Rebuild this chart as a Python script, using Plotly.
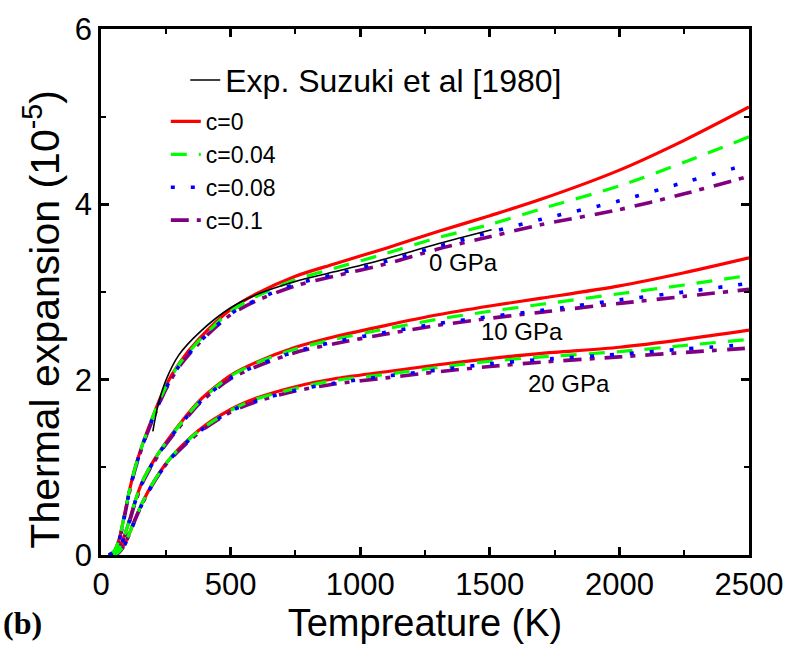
import plotly.graph_objects as go

# Temperature grid (K)
T = [30, 50, 70, 90, 110, 130, 160, 200, 250, 300, 380, 500, 600, 750, 900, 1100, 1300, 1500, 1700, 2000, 2250, 2500]

# 0 GPa
p0_c0 = [0, 0.04, 0.18, 0.45, 0.74, 0.98, 1.26, 1.58, 1.93, 2.18, 2.47, 2.80, 2.98, 3.18, 3.32, 3.50, 3.69, 3.87, 4.06, 4.39, 4.73, 5.11]
p0_c004 = [0, 0.04, 0.18, 0.45, 0.74, 0.98, 1.26, 1.58, 1.92, 2.17, 2.45, 2.78, 2.95, 3.14, 3.27, 3.44, 3.62, 3.77, 3.95, 4.21, 4.48, 4.77]
p0_c008 = [0, 0.04, 0.17, 0.44, 0.73, 0.97, 1.25, 1.56, 1.90, 2.15, 2.43, 2.75, 2.91, 3.09, 3.20, 3.35, 3.52, 3.68, 3.83, 4.04, 4.25, 4.46]
p0_c01 = [0, 0.03, 0.16, 0.43, 0.72, 0.96, 1.24, 1.55, 1.89, 2.14, 2.42, 2.74, 2.90, 3.07, 3.18, 3.32, 3.49, 3.63, 3.77, 3.94, 4.12, 4.32]

# 10 GPa
p10_c0 = [0, 0.01, 0.08, 0.22, 0.40, 0.60, 0.84, 1.06, 1.28, 1.48, 1.76, 2.05, 2.20, 2.37, 2.49, 2.62, 2.74, 2.84, 2.93, 3.07, 3.22, 3.39]
p10_c004 = [0, 0.01, 0.08, 0.22, 0.40, 0.60, 0.84, 1.06, 1.28, 1.47, 1.75, 2.04, 2.19, 2.35, 2.46, 2.58, 2.69, 2.78, 2.86, 2.98, 3.08, 3.19]
p10_c008 = [0, 0.01, 0.07, 0.21, 0.39, 0.59, 0.83, 1.05, 1.27, 1.46, 1.74, 2.02, 2.16, 2.32, 2.43, 2.54, 2.64, 2.72, 2.79, 2.91, 3.00, 3.10]
p10_c01 = [0, 0.01, 0.07, 0.20, 0.38, 0.58, 0.82, 1.04, 1.26, 1.45, 1.73, 2.01, 2.15, 2.31, 2.41, 2.52, 2.62, 2.70, 2.77, 2.87, 2.95, 3.03]

# 20 GPa
p20_c0 = [0, 0, 0.04, 0.12, 0.25, 0.40, 0.60, 0.82, 1.04, 1.21, 1.43, 1.66, 1.79, 1.92, 2.01, 2.09, 2.17, 2.24, 2.30, 2.37, 2.46, 2.565]
p20_c004 = [0, 0, 0.04, 0.12, 0.25, 0.40, 0.60, 0.82, 1.04, 1.21, 1.42, 1.65, 1.78, 1.90, 1.99, 2.06, 2.14, 2.21, 2.26, 2.32, 2.39, 2.46]
p20_c008 = [0, 0, 0.04, 0.11, 0.24, 0.39, 0.59, 0.81, 1.03, 1.20, 1.41, 1.64, 1.76, 1.88, 1.96, 2.04, 2.11, 2.18, 2.23, 2.29, 2.35, 2.40]
p20_c01 = [0, 0, 0.03, 0.11, 0.24, 0.39, 0.59, 0.81, 1.03, 1.19, 1.40, 1.63, 1.75, 1.87, 1.95, 2.02, 2.09, 2.15, 2.20, 2.26, 2.31, 2.36]

# Experiment (Suzuki et al 1980)
T_exp = [200, 220, 250, 300, 380, 500, 600, 750, 900, 1100, 1300, 1507]
v_exp = [1.41, 1.71, 1.99, 2.28, 2.54, 2.82, 2.97, 3.12, 3.23, 3.38, 3.55, 3.71]

series_names = ["c=0", "c=0.04", "c=0.08", "c=0.1"]
pressure_labels = ["0 GPa", "10 GPa", "20 GPa"]
label_T = [1398, 1624, 1806]
label_v = [3.34, 2.55, 1.96]

x_title = "Tempreature (K)"
y_title = "Thermal expansion (10<sup>-5</sup>)"

colors = ["#FF0000", "#00FF00", "#0000FF", "#800080"]
dashes = ["solid", "16px,12px", "4px,16px", "18px,8px,5px,10px"]
widths = [3.2, 3.2, 3.6, 3.6]

groups = [
    [p0_c0, p0_c004, p0_c008, p0_c01],
    [p10_c0, p10_c004, p10_c008, p10_c01],
    [p20_c0, p20_c004, p20_c008, p20_c01],
]

FONT = "Liberation Sans, Arial"
fig = go.Figure()

# drawing order: red, purple, green, blue (blue on top)
for k in [0, 3, 1, 2]:
    for gi, g in enumerate(groups):
        fig.add_trace(go.Scatter(
            x=T, y=g[k], mode="lines", name=series_names[k],
            legendgroup=series_names[k], legend="legend2",
            showlegend=False,
            line=dict(color=colors[k], width=widths[k], dash=dashes[k], shape="spline", smoothing=0.8),
        ))

fig.add_trace(go.Scatter(
    x=T_exp, y=v_exp, mode="lines", name="Exp. Suzuki et al [1980]",
    line=dict(color="black", width=1.6, shape="spline", smoothing=0.8),
    legend="legend", showlegend=True,
))

# legend entries for c series
for k in range(4):
    fig.add_trace(go.Scatter(
        x=[None], y=[None], mode="lines", name=series_names[k],
        legendgroup=series_names[k], legend="legend2", showlegend=True,
        line=dict(color=colors[k], width=widths[k], dash=dashes[k]),
    ))

for lab, tx, vy in zip(pressure_labels, label_T, label_v):
    fig.add_annotation(x=tx, y=vy, text=lab, showarrow=False,
                       font=dict(family=FONT, size=24, color="black"))

fig.add_annotation(xref="paper", yref="paper", x=-0.1214, y=-0.13, xanchor="center", yanchor="middle",
                   text="<b>(b)</b>", showarrow=False,
                   font=dict(family="Liberation Serif, Times New Roman", size=32, color="black"))

# y-axis title (placed as rotated text, slightly below plot centre as in the reference)
fig.add_annotation(xref="paper", yref="paper", x=-0.0906, y=0.448, xanchor="center", yanchor="middle",
                   text=y_title, textangle=-90, showarrow=False,
                   font=dict(family=FONT, size=41, color="black"))

axis_common = dict(
    showline=True, linewidth=2.5, linecolor="black", mirror="ticks",
    ticks="inside", ticklen=8, tickwidth=2.5, tickcolor="black",
    showgrid=False, zeroline=False,
    tickfont=dict(family=FONT, size=31, color="black"),
)

fig.update_xaxes(range=[0, 2500], dtick=500, tick0=0,
                 minor=dict(ticks="inside", ticklen=5, tickwidth=2, dtick=250, tickcolor="black"),
                 title=dict(text=x_title, font=dict(family=FONT, size=38, color="black"), standoff=8),
                 **axis_common)
fig.update_yaxes(range=[0, 6], dtick=2, tick0=0,
                 minor=dict(ticks="inside", ticklen=5, tickwidth=2, dtick=1, tickcolor="black"),
                 **axis_common)

fig.update_layout(
    width=795, height=661,
    margin=dict(l=101, r=43, t=23, b=106),
    paper_bgcolor="white", plot_bgcolor="white",
    legend=dict(x=0.13, y=0.955, xanchor="left", yanchor="top", bgcolor="rgba(0,0,0,0)",
                font=dict(family=FONT, size=32, color="black")),
    legend2=dict(x=0.10, y=0.865, xanchor="left", yanchor="top", bgcolor="rgba(0,0,0,0)",
                 font=dict(family=FONT, size=23, color="black"), tracegroupgap=0),
)

fig.write_html("out.html")
